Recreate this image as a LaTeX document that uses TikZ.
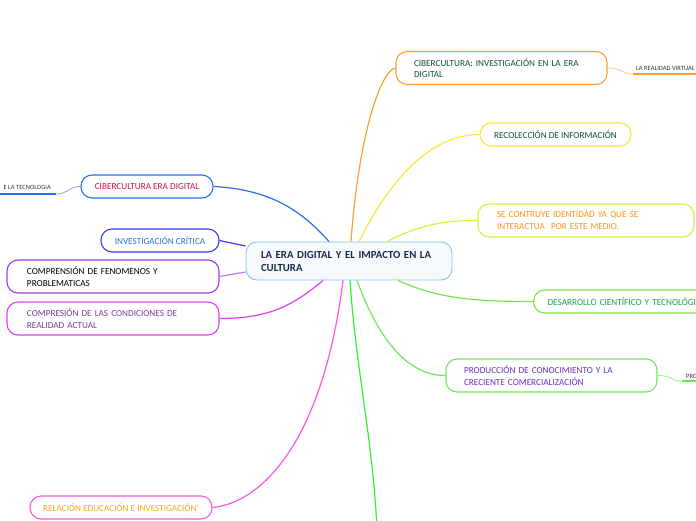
\documentclass[tikz,border=0pt]{standalone}
\usepackage{fontspec}
\setmainfont{Carlito}
\usepackage{tikz}
\usetikzlibrary{positioning}
\usepackage{xcolor}

\definecolor{rootline}{HTML}{8BBFE3}
\definecolor{rootfill}{HTML}{F6FAFD}
\definecolor{rootText}{HTML}{1B2A4A}
\definecolor{orng}{HTML}{F9A12E}
\definecolor{ylw}{HTML}{FDE53B}
\definecolor{ylwgrn}{HTML}{D2F53C}
\definecolor{grnA}{HTML}{7DE24E}
\definecolor{grnB}{HTML}{33EE33}
\definecolor{grnC}{HTML}{6EE85A}
\definecolor{blu}{HTML}{2A6CF6}
\definecolor{bluvio}{HTML}{3B3BF0}
\definecolor{purp}{HTML}{9B3BEE}
\definecolor{lilac}{HTML}{B779F2}
\definecolor{mgnt}{HTML}{E03EF0}
\definecolor{pnk}{HTML}{FF55DD}
\definecolor{dgreen}{HTML}{0D4F3C}
\definecolor{txtorange}{HTML}{F7941D}
\definecolor{txtgreen}{HTML}{17A34A}
\definecolor{txtpurple}{HTML}{6A2FC0}
\definecolor{txtcrimson}{HTML}{D0103A}
\definecolor{txtblue}{HTML}{2277CC}
\definecolor{txtviolet}{HTML}{7A3DA0}
\definecolor{txtgold}{HTML}{F5A623}
\definecolor{leafgray}{HTML}{333333}

\begin{document}
\begin{tikzpicture}[x=1pt, y=-1pt,
  topic/.style={draw, rounded corners=11pt, line width=1.1pt, fill=white,
    font=\fontsize{9.2}{11.6}\selectfont, inner ysep=0pt},
  single/.style={topic, minimum height=23pt, align=center},
  double/.style={topic, minimum height=33pt, align=left, inner xsep=18pt},
  leaf/.style={font=\fontsize{6.5}{7}\selectfont, text=leafgray, inner sep=1pt, anchor=west},
  link/.style={line width=1.2pt},
  uline/.style={line width=2pt}]
\useasboundingbox (0,0) rectangle (696,520);
\clip (0,0) rectangle (696,520);

% root
\node[topic, draw=rootline, line width=0.9pt, fill=rootfill, text=rootText,
  font=\fontsize{10.8}{13}\selectfont\bfseries, align=left, inner xsep=15pt,
  text width=176pt, minimum height=38pt] (root) at (349,261)
  {LA ERA DIGITAL Y EL IMPACTO EN LA\\CULTURA};

% right side
\node[double, draw=orng, text=dgreen, text width=175pt] (cibinv) at (501.5,68)
  {CIBERCULTURA: INVESTIGACIÓN EN LA ERA\\DIGITAL};
\node[single, draw=ylw, text=dgreen, minimum width=151pt] (recol) at (555.5,134.5)
  {RECOLECCIÓN DE INFORMACIÓN};
\node[double, draw=ylwgrn, text=txtorange, text width=178pt, inner xsep=19pt] (ident) at (586,220.5)
  {SE CONTRUYE IDENTIDAD YA QUE SE\\INTERACTUA\ \ POR ESTE MEDIO.};
\node[single, draw=grnA, text=txtgreen, anchor=west, inner xsep=14pt,
  text width=200pt, align=left] (desar) at (533,301.5)
  {DESARROLLO CIENTÍFICO Y TECNOLÓGICO};
\node[double, draw=grnC, text=txtpurple, text width=175pt] (produc) at (551.5,375.5)
  {PRODUCCIÓN DE CONOCIMIENTO Y LA\\CRECIENTE COMERCIALIZACIÓN};

% left side
\node[single, draw=blu, text=txtcrimson, minimum width=132pt] (cibera) at (147,186.5)
  {CIBERCULTURA ERA DIGITAL};
\node[single, draw=bluvio, text=txtblue, minimum width=118pt] (invcrit) at (160,240.5)
  {INVESTIGACIÓN CRÍTICA};
\node[double, draw=purp, text=black, text width=172pt, inner xsep=20pt] (compren) at (113,276.5)
  {COMPRENSIÓN DE FENOMENOS Y\\PROBLEMATICAS};
\node[double, draw=mgnt, text=txtviolet, text width=172pt, inner xsep=20pt] (compres) at (113,318.5)
  {COMPRESIÓN DE LAS CONDICIONES DE\\REALIDAD ACTUAL};
\node[single, draw=pnk, text=txtgold, minimum width=182pt] (relac) at (121,507.5)
  {RELACIÓN EDUCACIÓN E INVESTIGACIÓN'};

% leaves
\node[leaf] (virtual) at (635,68) {LA REALIDAD VIRTUAL};
\coordinate (virtualA) at (633,74);
\draw[uline, orng] (virtualA) -- (700,74);
\node[leaf] (pro) at (685,376) {PRO};
\coordinate (proA) at (682,381);
\draw[uline, grnC] (proA) -- (700,381);
\node[leaf, anchor=east] (tecno) at (52,187) {E LA TECNOLOGIA};
\coordinate (tecnoA) at (56,194);
\draw[uline, blu] (-5,194) -- (tecnoA);
\coordinate (down) at (377,530);

% links
\draw[link, blu] (cibera.east) .. controls +(60,3) and +(-25,-28) .. ([xshift=-20pt]root.north);
\draw[link, orng] ([xshift=2pt]root.north) .. controls +(8,-110) and +(-14,2) .. (cibinv.west);
\draw[link, ylw] ([xshift=10pt]root.north) .. controls +(30,-60) and +(-50,0) .. (recol.west);
\draw[link, ylwgrn] ([xshift=38pt]root.north) .. controls +(35,-18) and +(-30,0) .. (ident.west);
\draw[link, grnA] ([xshift=49pt]root.south) .. controls +(40,18) and +(-60,0) .. (desar.west);
\draw[link, grnC] ([xshift=8pt]root.south) .. controls +(20,55) and +(-40,0) .. (produc.west);
\draw[link, grnB] ([xshift=1pt]root.south) .. controls +(6,90) and +(-4,-90) .. (down);
\draw[link, mgnt] ([xshift=-26pt]root.south) .. controls +(-30,25) and +(50,0) .. (compres.east);
\draw[link, pnk] ([xshift=-6pt]root.south) .. controls +(-20,160) and +(50,-5) .. (relac.east);
\draw[link, lilac] (compren.east) -- ([yshift=-11pt]root.west);
\draw[link, bluvio] (invcrit.east) -- ([yshift=15pt]root.west);
\draw[orng!60, line width=0.8pt] (cibinv.east) .. controls +(15,0) and +(-12,0) .. (virtualA);
\draw[grnC!70, line width=0.8pt] (produc.east) .. controls +(15,0) and +(-12,0) .. (proA);
\draw[blu!60, line width=0.8pt] (cibera.west) .. controls +(-12,0) and +(12,0) .. (tecnoA);
\end{tikzpicture}
\end{document}
